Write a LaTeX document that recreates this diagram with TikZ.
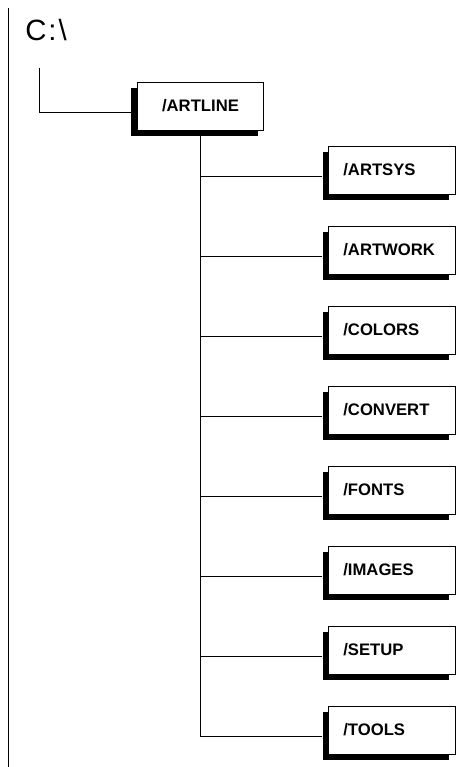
\documentclass[tikz,border=0pt]{standalone}
\usepackage{fontspec}
\setmainfont{Liberation Sans}
\usetikzlibrary{shadows,positioning}

\begin{document}
\begin{tikzpicture}[
    x=0.75pt, y=-0.75pt,
    dirbox/.style={rectangle, draw, line width=0.7pt, fill=white, text width=73pt, minimum height=36pt, inner xsep=11pt, align=left, font=\bfseries\fontsize{12.5}{14}\selectfont, drop shadow={shadow xshift=-4.5pt, shadow yshift=-4.5pt, fill=black, opacity=1}},
    drivelabel/.style={inner sep=0pt, anchor=north west, font=\fontsize{22}{26}\selectfont},
    link/.style={line width=0.7pt}
]
\useasboundingbox (0,0) rectangle (463,767);

% Page rule
\draw[link] (8,8) -- (8,767);

% Drive and root directory
\node[drivelabel] (drive) at (25,19) {C\kern1.5pt:\kern1.5pt\textbackslash};
\node[dirbox, align=center] (artline) at (200.5,106) {/ARTLINE};

% Subdirectories
\node[dirbox] (artsys) at (392,170) {/ARTSYS};
\node[dirbox] (artwork) at (392,250) {/ARTWORK};
\node[dirbox] (colors) at (392,330) {/COLORS};
\node[dirbox] (convert) at (392,410) {/CONVERT};
\node[dirbox] (fonts) at (392,490) {/FONTS};
\node[dirbox] (images) at (392,570) {/IMAGES};
\node[dirbox] (setup) at (392,650) {/SETUP};
\node[dirbox] (tools) at (392,730) {/TOOLS};

% Connectors
\draw[link] ([xshift=-5pt,yshift=-20pt]drive.south) |- ([xshift=-4.5pt,yshift=-4.5pt]artline.west);
\draw[link] (artline.south) |- ([xshift=-4.5pt,yshift=-4.5pt]artsys.west);
\draw[link] (artline.south) |- ([xshift=-4.5pt,yshift=-4.5pt]artwork.west);
\draw[link] (artline.south) |- ([xshift=-4.5pt,yshift=-4.5pt]colors.west);
\draw[link] (artline.south) |- ([xshift=-4.5pt,yshift=-4.5pt]convert.west);
\draw[link] (artline.south) |- ([xshift=-4.5pt,yshift=-4.5pt]fonts.west);
\draw[link] (artline.south) |- ([xshift=-4.5pt,yshift=-4.5pt]images.west);
\draw[link] (artline.south) |- ([xshift=-4.5pt,yshift=-4.5pt]setup.west);
\draw[link] (artline.south) |- ([xshift=-4.5pt,yshift=-4.5pt]tools.west);

\end{tikzpicture}
\end{document}
